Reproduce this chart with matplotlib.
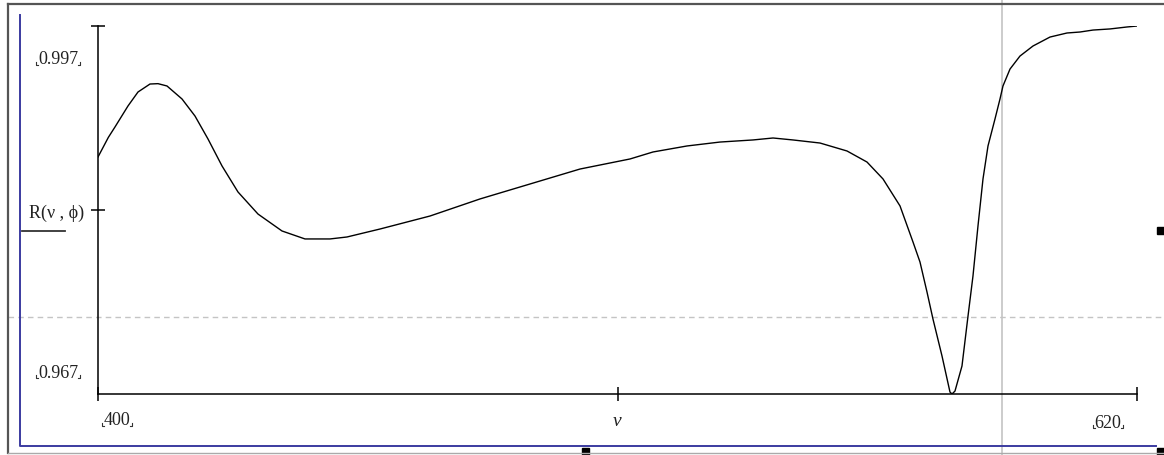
import matplotlib
matplotlib.use("Agg")
import matplotlib.pyplot as plt
from matplotlib.lines import Line2D
from matplotlib.patches import Rectangle

# ---- data ----
nu = [400.0, 402.19, 403.6, 406.35, 408.47, 411.01, 412.70, 414.61, 417.79,
      420.54, 423.29, 426.26, 429.64, 433.88, 438.96, 443.83, 449.12, 452.72,
      459.71, 470.30, 480.88, 491.47, 502.06, 512.65, 517.52, 524.72, 531.70,
      538.69, 542.93, 547.16, 552.88, 558.60, 562.83, 566.22, 569.82, 572.57,
      574.05, 575.53, 576.80, 578.71, 580.40, 580.83, 581.46, 582.94, 584.22,
      585.27, 586.33, 587.39, 588.45, 589.93, 590.99, 591.62, 593.11, 595.22,
      597.98, 601.58, 605.18, 607.93, 610.69, 614.29, 617.88, 620.0]
R = [0.98632, 0.98792, 0.98877, 0.99048, 0.99162, 0.99227, 0.99230, 0.99211,
     0.99105, 0.98966, 0.98779, 0.98559, 0.98347, 0.98167, 0.98029, 0.97964,
     0.97964, 0.97980, 0.98045, 0.98151, 0.98290, 0.98412, 0.98534, 0.98616,
     0.98673, 0.98722, 0.98754, 0.98771, 0.98787, 0.98771, 0.98746, 0.98681,
     0.98591, 0.98453, 0.98233, 0.97939, 0.97776, 0.97532, 0.97311, 0.97010,
     0.96716, 0.96700, 0.96724, 0.96928, 0.97336, 0.97662, 0.98070, 0.98453,
     0.98722, 0.98942, 0.99105, 0.99211, 0.99349, 0.99455, 0.99537, 0.99610,
     0.99643, 0.99651, 0.99667, 0.99676, 0.99692, 0.99700]

x_limits = [400, 620]
y_limits = [0.967, 0.997]
x_tick_labels = ["400", "620"]
y_tick_labels = ["0.997", "0.967"]
x_label = "ν"
y_label = "R(ν , ϕ)"
trace_nu = 591.4     # vertical trace cursor
trace_R = 0.97328    # horizontal trace cursor

W, H = 1164, 456
fig = plt.figure(figsize=(W / 100, H / 100), dpi=100)
fig.patch.set_facecolor("white")

def fx(px):
    return px / W

def fy(py):
    return 1 - py / H

ax = fig.add_axes([fx(98), fy(395), fx(1137) - fx(98), fy(27) - fy(395)])
ax.set_xlim(*x_limits)
ax.set_ylim(*y_limits)
ax.plot(nu, R, color="black", lw=1.0, solid_joinstyle="round", zorder=3)

for s in ["top", "right"]:
    ax.spines[s].set_visible(False)
for s in ["left", "bottom"]:
    ax.spines[s].set_linewidth(1.1)
    ax.spines[s].set_color("black")

xmid = (x_limits[0] + x_limits[1]) / 2
ymid = (y_limits[0] + y_limits[1]) / 2
ax.set_xticks([x_limits[0], xmid, x_limits[1]])
ax.set_yticks([ymid, y_limits[1]])
ax.set_xticklabels([])
ax.set_yticklabels([])
ax.tick_params(axis="both", direction="inout", length=10, width=1.1, color="black")

# trace cursor lines
ax.axvline(trace_nu, ymin=(395 - 456) / 368, ymax=395 / 368, color="#c4c4c4",
           lw=1.2, clip_on=False, zorder=1)
ax.axhline(trace_R, xmin=(8 - 98) / 1039, xmax=(1164 - 98) / 1039, color="#c4c4c4",
           lw=1.0, ls=(0, (4, 3)), clip_on=False, zorder=1)

serif = ["Liberation Serif", "DejaVu Serif"]
fs = 13

def corner_label(text, cx, cy):
    t = fig.text(fx(cx), fy(cy), text, ha="center", va="center",
                 family=serif, fontsize=fs, color="#222222")
    fig.canvas.draw()
    bb = t.get_window_extent()
    x0, x1 = bb.x0 - 2, bb.x1 + 2
    yb = bb.y0 + 3
    for xx, dx in [(x0, 2), (x1, -2)]:
        fig.add_artist(Line2D([xx / W, xx / W, (xx + dx) / W],
                              [(yb + 2.5) / H, yb / H, yb / H],
                              transform=fig.transFigure, color="#333333", lw=0.8))

corner_label(y_tick_labels[0], 58, 60)
corner_label(y_tick_labels[1], 58, 373)
corner_label(x_tick_labels[0], 117, 421)
corner_label(x_tick_labels[1], 1108, 423)

fig.text(fx(617), fy(422), x_label, ha="center", va="center",
         family=serif, fontsize=fs + 1, style="italic", color="#222222")
fig.text(fx(57), fy(213), y_label, ha="center", va="center",
         family=serif, fontsize=fs, color="#222222")
fig.add_artist(Line2D([fx(22), fx(65)], [fy(232), fy(232)],
                      transform=fig.transFigure, color="#333333", lw=1.3))

# outer region frame
fig.add_artist(Line2D([fx(8), fx(1164)], [fy(5), fy(5)], transform=fig.transFigure,
                      color="#555555", lw=1.6))
fig.add_artist(Line2D([fx(8), fx(8)], [fy(5), fy(454)], transform=fig.transFigure,
                      color="#555555", lw=1.6))
fig.add_artist(Line2D([fx(8), fx(1164)], [fy(454), fy(454)], transform=fig.transFigure,
                      color="#aaaaaa", lw=1.0))
# blue selection lines
fig.add_artist(Line2D([fx(20), fx(20), fx(1156)], [fy(16), fy(447), fy(447)],
                      transform=fig.transFigure, color="#3b3ba0", lw=1.4))
# handles
for (hx, hy) in [(1157, 228), (582, 449), (1157, 449)]:
    fig.add_artist(Rectangle((fx(hx), fy(hy + 7)), 7 / W, 7 / H,
                             transform=fig.transFigure, color="black"))

fig.savefig("out.png", dpi=100, facecolor="white")
